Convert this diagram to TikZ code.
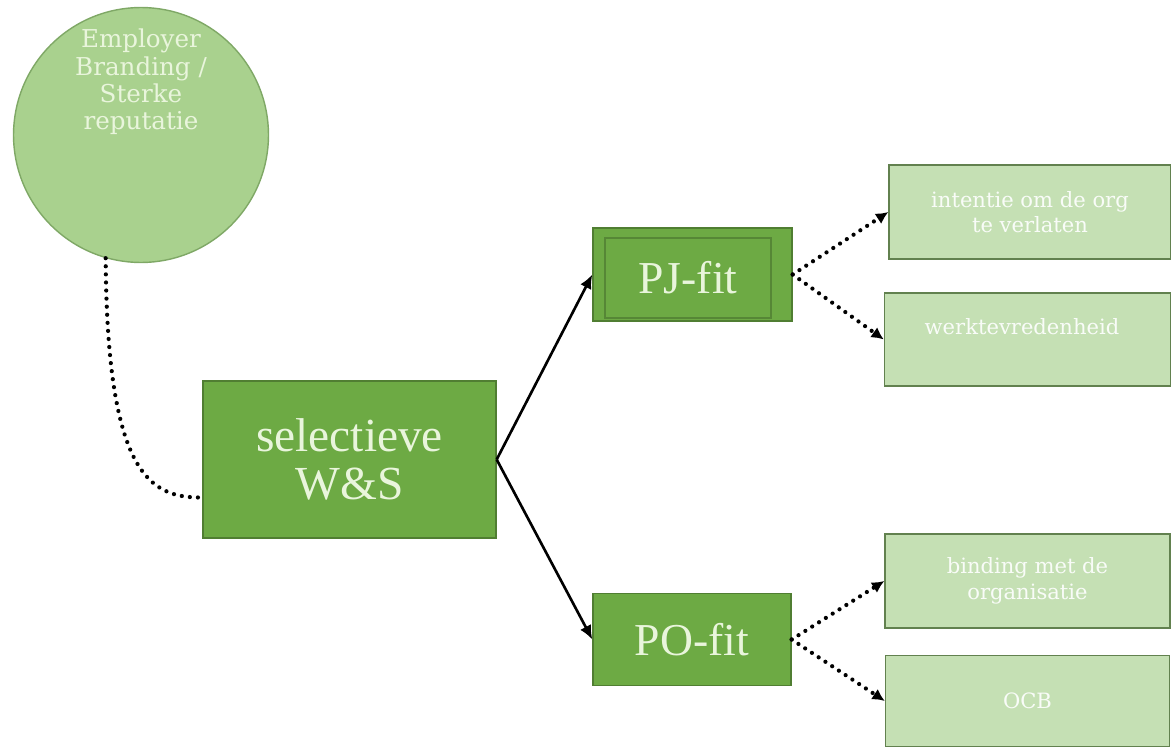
\documentclass[tikz,border=0pt]{standalone}
\usepackage{fontspec}
\setmainfont{Liberation Serif}
\newfontfamily\slabfont{DejaVu Serif}
\usepackage{tikz}
\usetikzlibrary{arrows.meta,positioning,calc}
\definecolor{accgreen}{HTML}{6DAA44}
\definecolor{accedge}{HTML}{507E32}
\definecolor{lightgreen}{HTML}{C5E0B4}
\definecolor{lightedge}{HTML}{62814F}
\definecolor{circgreen}{HTML}{A9D18E}
\definecolor{circedge}{HTML}{7FA866}
\definecolor{paletext}{HTML}{E9F5DC}
\tikzset{
  darkbox/.style={draw=accedge,fill=accgreen,line width=0.8pt,text=paletext,align=center,inner sep=0pt},
  lightbox/.style={draw=lightedge,fill=lightgreen,line width=0.8pt,text=white!90!lightgreen,align=center,inner sep=0pt,
    font=\slabfont\fontsize{12}{14.5}\selectfont},
  solidarr/.style={-{Latex[length=8pt,width=7pt]},line width=1.5pt},
  dotarr/.style={-{Latex[length=7pt,width=7pt]},line width=2.4pt,line cap=round,dash pattern=on 0pt off 4.6pt},
}
\begin{document}
\begin{tikzpicture}[x=0.02cm,y=-0.02cm]
\useasboundingbox (0,0) rectangle (1171,747);
% source of the chain
\node[circle,draw=circedge,fill=circgreen,line width=0.8pt,minimum size=5.1cm] (brand) at (141,135) {};
\node[text=paletext,align=center,font=\slabfont\fontsize{14}{15.5}\selectfont] (brandtxt) at (141,82)
  {Employer\\Branding /\\Sterke\\reputatie};
% middle
\node[darkbox,minimum width=5.86cm,minimum height=3.14cm,font=\fontsize{27}{27}\selectfont] (ws) at (349.5,459.5)
  {selectieve\\W\&S};
\node[darkbox,minimum width=3.98cm,minimum height=1.86cm] (pj) at (692.5,274.5) {};
\node[draw=accedge!80!accgreen,line width=0.6pt,minimum width=3.32cm,minimum height=1.6cm,inner sep=0pt,
  text=paletext,font=\fontsize{26}{26}\selectfont] (pjin) at (688,278) {PJ-fit};
\node[darkbox,minimum width=3.96cm,minimum height=1.84cm,font=\fontsize{26}{26}\selectfont] (po) at (692,639.5) {PO-fit};
% outcomes
\node[lightbox,minimum width=5.64cm,minimum height=1.88cm] (leave) at (1030,212) {intentie om de org\\te verlaten};
\node[lightbox,minimum width=5.72cm,minimum height=1.86cm] (satis) at (1027.5,339.5) {};
\node[text=white!90!lightgreen,font=\slabfont\fontsize{12}{14.5}\selectfont] (satistxt) at (1022,327) {werktevredenheid};
\node[lightbox,minimum width=5.7cm,minimum height=1.88cm] (bind) at (1027.5,581) {binding met de\\organisatie};
\node[lightbox,minimum width=5.68cm,minimum height=1.82cm] (ocb) at (1027.5,701) {OCB};
% connectors
\draw[dotarr,-] (brand.254) .. controls (107,475) and (150,498) .. ($(ws.west)+(0,38)$);
\draw[solidarr] (ws.east) -- (pj.west);
\draw[solidarr] (ws.east) -- (po.west);
\draw[dotarr] (pj.east) -- (leave.west);
\draw[dotarr] (pj.east) -- (satis.west);
\draw[dotarr] (po.east) -- (bind.west);
\draw[dotarr] (po.east) -- (ocb.west);
\end{tikzpicture}
\end{document}
